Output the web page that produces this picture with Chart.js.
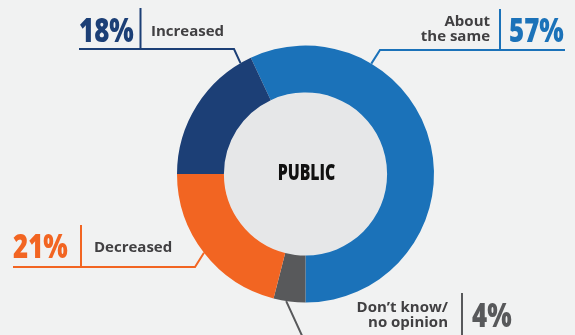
<!DOCTYPE html>
<html>
<head>
<meta charset="utf-8">
<script src="https://cdn.jsdelivr.net/npm/chart.js@4.4.0/dist/chart.umd.min.js"></script>
<style>
    html, body { margin: 0; padding: 0; background: #f1f2f2; }
    #wrap { position: relative; width: 575px; height: 335px; }
</style>
</head>
<body>
<div id="wrap"><canvas id="donut"></canvas></div>
<script>
// survey answers, clockwise from the top right
var categories = ["About the same", "Don\u2019t know/ no opinion", "Decreased", "Increased"];
var values = [57, 4, 21, 18];
var valueLabels = ["57%", "4%", "21%", "18%"];
var colors = ["#1b72b9", "#58595b", "#f26522", "#1c3f76"];
var centerText = "PUBLIC";

const TEXT = "#414042";

// callout layout for each slice: where on the arc the leader starts (0..1 along the slice),
// the elbow, the underline and the two text blocks
var callouts = [
    { at: 0.273, elbow: [380, 50], lineTo: 565, sep: [500, 9, 51],
      pct: [509, 42], words: ["About", "the same"], wordX: 490, wordY: [26, 41], align: "right" },
    { at: 0.6, elbow: [304, 340], lineTo: 575, sep: [462, 293, 340],
      pct: [472, 327], words: ["Don\u2019t know/", "no opinion"], wordX: 448, wordY: [312, 327], align: "right" },
    { at: 0.5, elbow: [195, 267], lineTo: 13, sep: [81, 225, 267],
      pct: [13, 258], words: ["Decreased"], wordX: 94, wordY: [252], align: "left" },
    { at: 0.92, elbow: [234, 49], lineTo: 79, sep: [140.5, 8, 49],
      pct: [79, 42], words: ["Increased"], wordX: 151, wordY: [36], align: "left" }
];

function drawCondensed(ctx, text, x, y, sx) {
    ctx.save();
    ctx.translate(x, y);
    ctx.scale(sx, 1);
    ctx.fillText(text, 0, 0);
    ctx.restore();
}

var calloutPlugin = {
    id: "callouts",
    beforeDatasetsDraw: function (chart) {
        var ctx = chart.ctx;
        var arc = chart.getDatasetMeta(0).data[0];
        // grey disc inside the ring
        ctx.save();
        ctx.beginPath();
        ctx.arc(arc.x, arc.y, arc.innerRadius, 0, 2 * Math.PI);
        ctx.fillStyle = "#e6e7e8";
        ctx.fill();
        ctx.restore();
    },
    afterDatasetsDraw: function (chart) {
        var ctx = chart.ctx;
        var meta = chart.getDatasetMeta(0);

        ctx.save();
        ctx.fillStyle = "#111111";
        ctx.font = "800 22px 'Open Sans'";
        ctx.textAlign = "center";
        ctx.textBaseline = "middle";
        drawCondensed(ctx, centerText, meta.data[0].x + 1, meta.data[0].y, 0.72);
        ctx.restore();

        meta.data.forEach(function (el, i) {
            var c = callouts[i];
            var a = el.startAngle + (el.endAngle - el.startAngle) * c.at;
            var px = el.x + Math.cos(a) * el.outerRadius;
            var py = el.y + Math.sin(a) * el.outerRadius;
            var lineColor = colors[i];

            ctx.save();
            ctx.strokeStyle = lineColor;
            ctx.lineWidth = 2;
            ctx.beginPath();
            ctx.moveTo(px, py);
            ctx.lineTo(c.elbow[0], c.elbow[1]);
            ctx.lineTo(c.lineTo, c.elbow[1]);
            ctx.stroke();

            ctx.beginPath();
            ctx.moveTo(c.sep[0], c.sep[1]);
            ctx.lineTo(c.sep[0], c.sep[2]);
            ctx.stroke();

            // big percentage
            ctx.fillStyle = lineColor;
            ctx.font = "800 34px 'Open Sans'";
            ctx.textAlign = "left";
            ctx.textBaseline = "alphabetic";
            drawCondensed(ctx, valueLabels[i], c.pct[0], c.pct[1], 0.76);

            // category name
            ctx.fillStyle = TEXT;
            ctx.font = "bold 15px 'Open Sans'";
            ctx.textAlign = c.align;
            c.words.forEach(function (w, k) {
                ctx.fillText(w, c.wordX, c.wordY[k]);
            });
            ctx.restore();
        });
    }
};

window.onload = function () {
    new Chart("donut", {
        type: "doughnut",
        data: {
            labels: categories,
            datasets: [{
                data: values,
                backgroundColor: colors,
                borderWidth: 0
            }]
        },
        options: {
            responsive: true,
            maintainAspectRatio: false,
            animation: false,
            cutout: "63.5%",
            rotation: -values[0] / 100 * 360 + 180,
            layout: { padding: { left: 177, right: 141, top: 45.5, bottom: 32.5 } },
            plugins: {
                legend: { display: false },
                tooltip: { enabled: false }
            }
        },
        plugins: [calloutPlugin]
    });
};
</script>
</body>
</html>
